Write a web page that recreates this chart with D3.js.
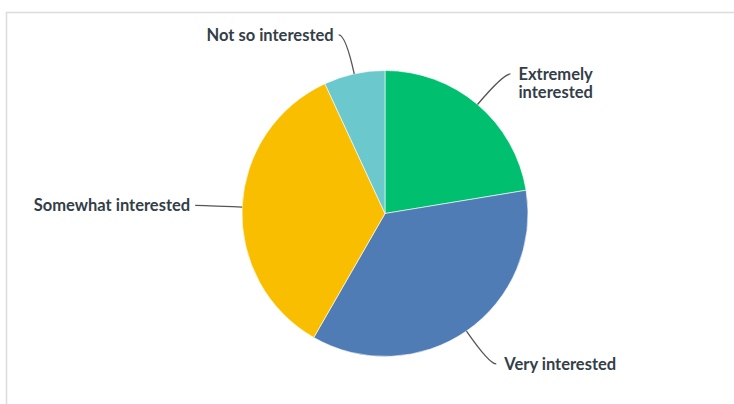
<!DOCTYPE html>
<html>
<head>
<meta charset="utf-8">
<script src="https://cdn.jsdelivr.net/npm/d3@7"></script>
<style>
  html, body { margin: 0; padding: 0; background: #fff; }
  svg { display: block; }
</style>
</head>
<body>
<svg id="chart" width="734" height="404"></svg>
<script>
// Survey answers, in clockwise order from 12 o'clock
const categories = ["Extremely interested", "Very interested", "Somewhat interested", "Not so interested"];
const shares = [22.4, 35.9, 34.8, 6.9];
const colors = ["#00bf6f", "#507cb6", "#f9be00", "#6bc8cd"];

const width = 734, height = 404;
const cx = 385, cy = 213.5, radius = 143;

const svg = d3.select("#chart");

// panel frame (top and left edges)
svg.append("path")
  .attr("d", `M6.5,${height} V12.5 H${width}`)
  .attr("fill", "none")
  .attr("stroke", "#dcdcdc")
  .attr("stroke-width", 1.5);

const data = categories.map((c, i) => ({ name: c, value: shares[i], color: colors[i] }));

const pie = d3.pie().value(d => d.value).sort(null);
const arcs = pie(data);
const arc = d3.arc().innerRadius(0).outerRadius(radius);

const g = svg.append("g").attr("transform", `translate(${cx},${cy})`);

g.selectAll("path.slice")
  .data(arcs)
  .join("path")
  .attr("class", "slice")
  .attr("d", arc)
  .attr("fill", d => d.data.color)
  .attr("stroke", "#fff")
  .attr("stroke-width", 0.6);

// leader lines and labels
const elbowR = radius + 40;
const hook = 7;
const wrapWidth = 130;

function polar(r, a) { return [r * Math.sin(a), -r * Math.cos(a)]; }

arcs.forEach(d => {
  const mid = (d.startAngle + d.endAngle) / 2;
  const right = Math.sin(mid) > 0;
  const p0 = polar(radius, mid);
  const p1 = polar(elbowR, mid);
  const p2 = [p1[0] + (right ? hook : -hook), p1[1]];

  g.append("path")
    .attr("d", `M${p0[0]},${p0[1]} Q${p1[0]},${p1[1]} ${p2[0]},${p2[1]}`)
    .attr("fill", "none")
    .attr("stroke", "#555")
    .attr("stroke-width", 1.3);

  const tx = p2[0] + (right ? 8 : -5);
  const text = g.append("text")
    .attr("x", tx)
    .attr("y", p2[1])
    .attr("text-anchor", right ? "start" : "end")
    .attr("font-family", "Lato, 'Open Sans', sans-serif")
    .attr("font-weight", 700)
    .attr("font-size", 16.5)
    .attr("fill", "#333e48");

  // wrap long labels on the right side onto extra lines
  const words = d.data.name.split(" ");
  let lines = [d.data.name];
  if (right) {
    const probe = text.append("tspan").text(d.data.name);
    if (probe.node().getComputedTextLength() > wrapWidth) lines = words;
    probe.remove();
  }
  lines.forEach((ln, i) => {
    text.append("tspan")
      .attr("x", tx)
      .attr("dy", i === 0 ? "0.35em" : "1.1em")
      .text(ln);
  });
});
</script>
</body>
</html>
